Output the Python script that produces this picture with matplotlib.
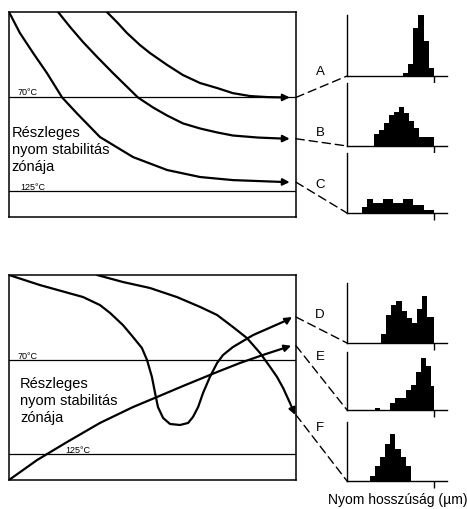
import matplotlib
matplotlib.use("Agg")
import matplotlib.pyplot as plt
from matplotlib.patches import ConnectionPatch

plt.rcParams['font.family'] = ['Liberation Sans', 'DejaVu Sans']

# time-temperature paths (t in % of history, T in degC)
tA = [34.1, 37.6, 41.1, 45.6, 49.1, 55.1, 60.6, 66.6, 72.5, 78.0, 84.0, 89.9, 95.5, 97.8]
TA = [20.0, 25.9, 32.3, 39.3, 44.0, 51.0, 56.9, 61.6, 64.5, 67.5, 69.2, 69.8, 70.0, 70.0]
tB = [17.1, 21.3, 25.8, 30.7, 36.2, 44.9, 50.2, 55.1, 60.6, 66.6, 72.5, 78.0, 86.8, 95.5, 97.8]
TB = [20.0, 28.8, 37.6, 46.3, 55.7, 70.0, 75.9, 80.6, 85.2, 88.2, 90.5, 92.3, 93.5, 94.1, 94.2]
tC = [0.0, 3.8, 8.4, 13.2, 18.5, 23.7, 31.7, 43.2, 55.1, 66.6, 78.0, 95.5, 97.8]
TC = [20.0, 32.3, 44.0, 55.7, 70.0, 79.4, 93.2, 104.9, 112.5, 116.6, 118.4, 119.5, 119.6]

tD = [0.0, 10.8, 25.8, 31.7, 35.2, 39.7, 43.2, 46.3, 48.1, 49.8, 50.9, 51.9, 53.7, 56.1,
      59.6, 62.4, 64.1, 65.9, 67.6, 70.0, 72.5, 74.6, 78.0, 85.0, 96.9, 98.6]
TD = [20.0, 25.9, 32.9, 37.6, 42.2, 49.3, 56.3, 62.7, 69.8, 79.7, 89.1, 97.3, 103.7, 107.2,
      107.8, 106.6, 103.1, 97.3, 89.1, 79.7, 71.5, 66.8, 62.2, 55.2, 46.4, 44.6]
tE = [0.0, 9.8, 20.2, 31.7, 43.2, 51.6, 60.6, 72.5, 80.5, 88.5, 96.9, 98.3]
TE = [140.0, 128.3, 117.8, 106.6, 97.3, 91.4, 85.0, 76.8, 71.5, 66.8, 62.2, 61.4]
tF = [30.7, 39.7, 49.1, 58.5, 66.6, 72.5, 78.0, 82.9, 87.5, 91.0, 93.4, 95.5, 97.9, 99.7]
TF = [20.0, 24.1, 27.6, 32.9, 38.7, 43.4, 50.4, 56.9, 65.7, 73.9, 79.7, 86.1, 94.9, 101.9]

# track length histograms (bin edges in um, counts)
edgesA = [11, 12, 13, 14, 15, 16, 17]
countsA = [1.5, 6, 23.5, 30, 17, 4]
edgesB = [5.2, 6.2, 7.2, 8.2, 9.2, 10.2, 11.2, 12.2, 13.2, 14.2, 15.2, 16.2, 17.1]
countsB = [5.5, 7.5, 11, 15, 16, 18.5, 15.5, 12, 8.5, 4.5, 4.5, 4.5]
edgesC = [3, 4, 5, 6, 7, 8, 9, 10, 11, 12, 13, 14, 15, 16, 17]
countsC = [3, 7, 5, 5, 7, 7, 5, 5, 7, 7, 4, 4, 1.5, 1.5]
edgesD = [6.7, 7.7, 8.7, 9.7, 10.7, 11.7, 12.7, 13.7, 14.7, 15.7, 17]
countsD = [4.5, 14, 19, 21, 16, 12.5, 10, 17, 23.5, 13]
edgesE = [5.5, 6.5, 7.5, 8.5, 9.5, 10.5, 11.5, 12.5, 13.5, 14.5, 15.5, 16.5, 17]
countsE = [1, 0, 0, 3.5, 6, 6, 10.5, 13, 19.5, 27, 23, 12.5]
edgesF = [4.5, 5.5, 6.5, 7.5, 8.5, 9.5, 10.5, 11.5, 12.6]
countsF = [2.5, 7.5, 12, 19, 24, 16.5, 12, 7.5]

labels = ['A', 'B', 'C', 'D', 'E', 'F']

W, H = 467, 509
fig = plt.figure(figsize=(W / 100, H / 100), dpi=100)


def rect(l, t, r, b):
    return [l / W, 1 - b / H, (r - l) / W, (b - t) / H]


def main_panel(box):
    ax = fig.add_axes(rect(*box))
    ax.set_xlim(0, 100)
    ax.set_ylim(140, 20)
    ax.set_xticks([])
    ax.set_yticks([])
    for s in ax.spines.values():
        s.set_linewidth(1.1)
    ax.axhline(70, color='black', lw=0.9)
    ax.axhline(125, color='black', lw=0.9)
    return ax


def path(ax, t, T):
    ax.plot(t[:-1], T[:-1], color='black', lw=1.6, solid_capstyle='round',
            solid_joinstyle='round')
    ax.annotate('', xy=(t[-1], T[-1]), xytext=(t[-2], T[-2]),
                arrowprops=dict(arrowstyle='-|>', color='black', lw=1.5,
                                mutation_scale=10, shrinkA=0, shrinkB=0))


def hist_panel(box, edges, counts):
    ax = fig.add_axes(rect(*box))
    ax.stairs(counts, edges, fill=True, color='black', lw=0)
    ax.set_xlim(0, 19.6)
    ax.set_ylim(0, 30)
    ax.spines['top'].set_visible(False)
    ax.spines['right'].set_visible(False)
    ax.spines['left'].set_linewidth(1.0)
    ax.spines['bottom'].set_linewidth(1.0)
    ax.set_yticks([])
    ax.set_xticks([17])
    ax.tick_params(axis='x', length=5, width=1, direction='out', labelbottom=False)
    return ax


ax1 = main_panel((9, 12, 296, 217))
ax2 = main_panel((9, 275, 296, 480))

path(ax1, tA, TA)
path(ax1, tB, TB)
path(ax1, tC, TC)
path(ax2, tD, TD)
path(ax2, tE, TE)
path(ax2, tF, TF)

small = dict(fontsize=6.5, va='baseline', ha='left')
ax1.text(3.1, 68.6, '70°C', **small)
ax1.text(3.8, 124.0, '125°C', **small)
ax2.text(3.1, 69.0, '70°C', **small)
ax2.text(19.5, 124.0, '125°C', **small)

zone = 'Részleges\nnyom stabilitás\nzónája'
ax1.text(1.0, 100.8, zone, fontsize=10.5, va='center', ha='left', linespacing=1.3)
ax2.text(3.8, 93.8, zone, fontsize=10.5, va='center', ha='left', linespacing=1.3)

hists = [
    hist_panel((347, 15, 447, 76), edgesA, countsA),
    hist_panel((347, 83, 447, 146), edgesB, countsB),
    hist_panel((347, 153, 447, 213), edgesC, countsC),
    hist_panel((347, 283, 447, 343), edgesD, countsD),
    hist_panel((347, 352, 447, 410), edgesE, countsE),
    hist_panel((347, 422, 447, 481), edgesF, countsF),
]

ends = [(ax1, TA[-1]), (ax1, TB[-1]), (ax1, TC[-1]),
        (ax2, TD[-1]), (ax2, TE[-1]), (ax2, TF[-1])]
label_y = [0.07, 0.21, 0.47, 0.47, 0.91, 0.90]

for (ax, T), hx, lab, ly in zip(ends, hists, labels, label_y):
    con = ConnectionPatch(xyA=(100, T), coordsA='data', axesA=ax,
                          xyB=(0, 0), coordsB='axes fraction', axesB=hx,
                          color='black', lw=1.0, linestyle=(0, (6, 3.5)))
    fig.add_artist(con)
    hx.text(-0.27, ly, lab, transform=hx.transAxes, fontsize=9.5,
            ha='center', va='center')

fig.text(328 / W, 1 - 500 / H, 'Nyom hosszúság (µm)', fontsize=10,
         ha='left', va='center')

fig.savefig('out.png', dpi=100)
